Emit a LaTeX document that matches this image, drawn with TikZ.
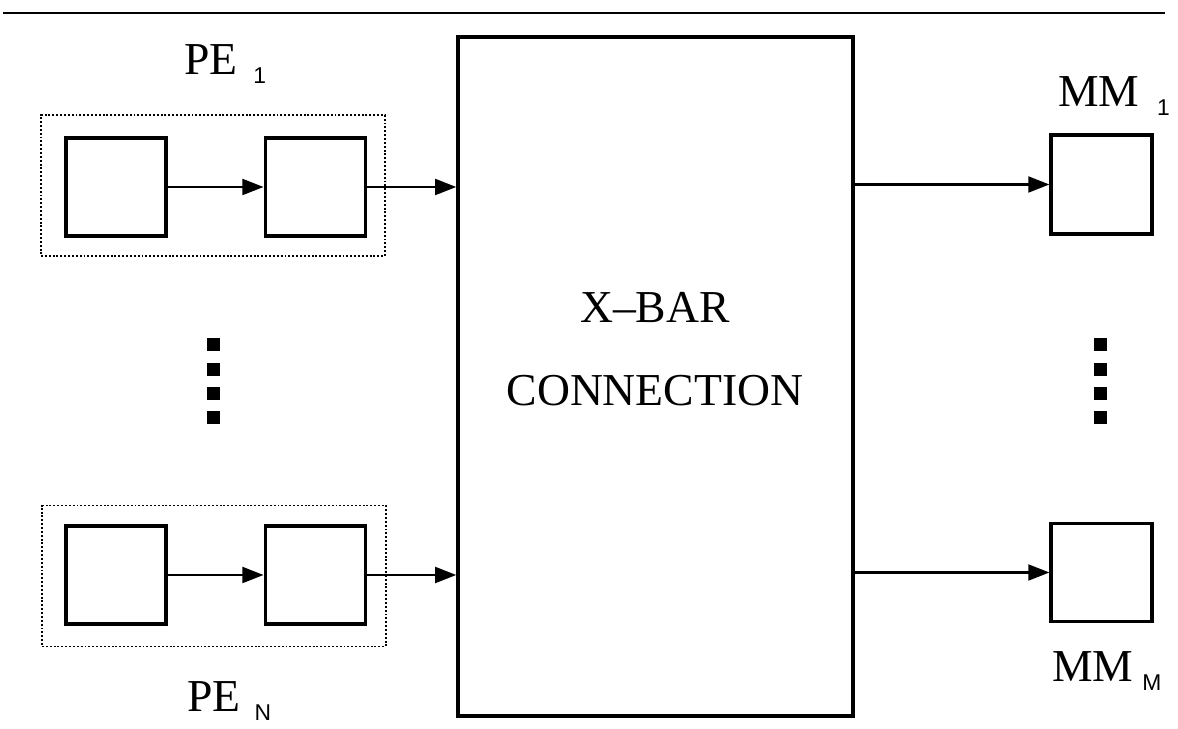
\documentclass[tikz,border=0pt]{standalone}
\usepackage{fontspec}
\setmainfont{Liberation Serif}
\setsansfont{Liberation Sans}
\usepackage{tikz}
\usetikzlibrary{arrows.meta,positioning}

\newcommand{\lsub}[2][7pt]{\hspace{#1}\raisebox{-5pt}{\fontsize{13}{13}\selectfont\sffamily #2}}

\begin{document}
\begin{tikzpicture}[
      x=0.02cm, y=-0.02cm,
      unit/.style={
        draw, line width=1.8pt, inner sep=0pt,
        minimum width=2cm, minimum height=1.96cm
      },
      pebox/.style={
        draw, line width=1.1pt, dash pattern=on 1.1pt off 1.1pt, inner sep=0pt,
        minimum width=6.88cm, minimum height=2.82cm
      },
      xbar/.style={
        draw, line width=2pt, inner sep=0pt,
        minimum width=7.9cm, minimum height=13.58cm
      },
      big/.style={font=\fontsize{26}{47}\selectfont, inner sep=0pt},
      arrow/.style={-{Triangle[length=12pt,width=9pt]}, line width=1.4pt}
    ]
      \useasboundingbox (0,0) rectangle (1178,729);
      \draw[line width=1.4pt] (3,13) -- (1165,13);

      % crossbar
      \node[xbar] (xb) at (655.5,376.5) {};
      \node[big, align=center] (xbtext) at (655,349) {X--BAR\\CONNECTION};

      % processing elements
      \node[pebox] (pe1) at (213,185.5) {};
      \node[unit] (pe1a) at (116,187) {};
      \node[unit, right=1.92cm of pe1a] (pe1b) {};
      \node[big, anchor=base west] (pe1lbl) at (184,75) {PE\lsub[9pt]{1}};

      \node[pebox] (pen) at (214,576) {};
      \node[unit] (pena) at (116,575) {};
      \node[unit, right=1.92cm of pena] (penb) {};
      \node[big, anchor=base west] (penlbl) at (187,712) {PE\lsub[8pt]{N}};

      % memory modules
      \node[unit, minimum width=2.02cm, minimum height=1.98cm] (mm1) at (1101.5,184.5) {};
      \node[big, anchor=base west] (mm1lbl) at (1058,107) {MM\lsub[10pt]{1}};
      \node[unit, minimum width=2.02cm, minimum height=1.96cm] (mmm) at (1101.5,572.5) {};
      \node[big, anchor=base west] (mmmlbl) at (1052,682) {MM\lsub[5pt]{M}};

      \draw[arrow] (pe1a) -- (pe1b);
      \draw[arrow] (pe1b.east) -- (pe1b.east -| xb.west);
      \draw[arrow] (pena) -- (penb);
      \draw[arrow] (penb.east) -- (penb.east -| xb.west);
      \draw[arrow] (mm1.west -| xb.east) -- (mm1.west);
      \draw[arrow] (mmm.west -| xb.east) -- (mmm.west);

      % dots
      \foreach \y in {345,370,393.5,417.5} {
        \fill (207,\y-6.5) rectangle (220,\y+6.5);
        \fill (1094,\y-6.5) rectangle (1107,\y+6.5);
      }
    \end{tikzpicture}
\end{document}
